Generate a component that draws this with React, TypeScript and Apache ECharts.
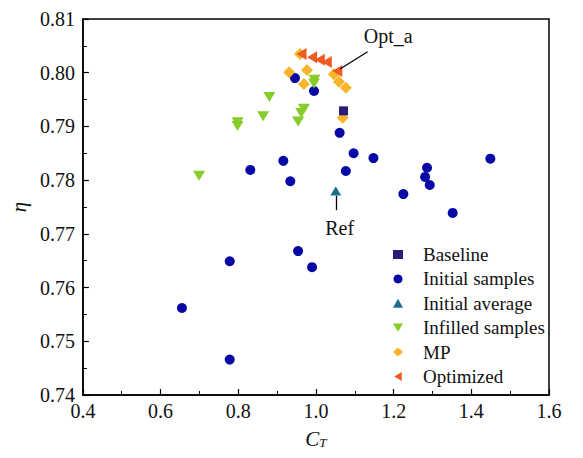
import React, { useEffect, useRef } from "react";
import * as echarts from "echarts";

// ---- data ----
const baselineCT = [1.071];
const baselineEta = [0.7929];

const initialCT = [0.655, 0.778, 0.778, 0.954, 0.990, 0.831, 0.916, 0.934, 1.061, 1.097, 1.077, 1.148, 1.286, 1.281, 1.293, 1.225, 1.352, 1.449, 0.946, 0.995];
const initialEta = [0.7562, 0.7649, 0.7466, 0.7668, 0.7638, 0.7819, 0.7836, 0.7798, 0.7888, 0.7850, 0.7817, 0.7841, 0.7823, 0.7806, 0.7791, 0.7774, 0.7739, 0.7840, 0.7990, 0.7966];

const averageCT = [1.051];
const averageEta = [0.7780];

const infilledCT = [0.699, 0.798, 0.798, 0.864, 0.880, 0.954, 0.962, 0.969, 0.995, 0.996];
const infilledEta = [0.7808, 0.7901, 0.7908, 0.7919, 0.7955, 0.7909, 0.7925, 0.7933, 0.7980, 0.7987];

const mpCT = [0.959, 0.931, 0.977, 0.969, 1.046, 1.059, 1.077, 1.069];
const mpEta = [0.8035, 0.8001, 0.8005, 0.7979, 0.7997, 0.7983, 0.7972, 0.7916];

const optCT = [0.963, 0.990, 1.010, 1.028, 1.055];
const optEta = [0.8035, 0.8029, 0.8024, 0.8020, 0.8003];

const seriesNames = ["Baseline", "Initial samples", "Initial average", "Infilled samples", "MP", "Optimized"];

const xTicks = { min: 0.4, max: 1.6, interval: 0.2 };
const yTicks = { min: 0.74, max: 0.81, interval: 0.01 };

// annotation anchors (data space)
const refArrow = [[1.051, 0.7744], [1.051, 0.7771]];
const refLabel = [1.061, 0.7711];
const optArrow = [[1.133, 0.8039], [1.062, 0.8007]];
const optLabel = [1.186, 0.8068];

const zip = (xs: number[], ys: number[]) => xs.map((x, i) => [x, ys[i]]);

const FONT = "Liberation Serif";

const DOWN_TRI = "path://M0,0L12,0L6,10Z";
const LEFT_TRI = "path://M0,6L10,0L10,12Z";

export default function App() {
  const ref = useRef<HTMLDivElement>(null);
  useEffect(() => {
    if (!ref.current) return;
    const chart = echarts.init(ref.current, null, { renderer: "svg" });
    const axisCommon = {
      splitLine: { show: false },
      axisLine: { lineStyle: { color: "#000", width: 1.5 } },
      axisTick: { inside: true, length: 6, lineStyle: { color: "#000", width: 1.2 } },
      minorTick: { show: true, splitNumber: 2, length: 4, lineStyle: { color: "#000", width: 1 } },
    };
    const legendIcons: Record<string, string> = {
      Baseline: "rect",
      "Initial samples": "circle",
      "Initial average": "triangle",
      "Infilled samples": DOWN_TRI,
      MP: "diamond",
      Optimized: LEFT_TRI,
    };
    chart.setOption({
      animation: false,
      backgroundColor: "#fff",
      textStyle: { fontFamily: FONT },
      grid: { left: 80, right: 34, top: 19, bottom: 63, show: true, borderColor: "#000", borderWidth: 1.5, backgroundColor: "transparent" },
      xAxis: {
        type: "value",
        ...xTicks,
        ...axisCommon,
        axisLabel: { fontFamily: FONT, fontSize: 20, color: "#111", margin: 6, formatter: (v: number) => v.toFixed(1) },
        name: "{i|C}{s|T}",
        nameLocation: "middle",
        nameGap: 33,
        nameTextStyle: {
          rich: {
            i: { fontFamily: FONT, fontStyle: "italic", fontSize: 21, color: "#111" },
            s: { fontFamily: FONT, fontStyle: "italic", fontSize: 13, color: "#111", verticalAlign: "bottom", padding: [8, 0, 0, 0] },
          },
        },
      },
      yAxis: {
        type: "value",
        ...yTicks,
        ...axisCommon,
        axisLabel: { fontFamily: FONT, fontSize: 20, color: "#111", margin: 8, formatter: (v: number) => v.toFixed(2) },
        name: "η",
        nameLocation: "middle",
        nameGap: 46,
        nameTextStyle: { fontFamily: FONT, fontStyle: "italic", fontSize: 21, color: "#111" },
      },
      legend: {
        data: seriesNames.map((n) => ({ name: n, icon: legendIcons[n] })),
        orient: "vertical",
        left: 388,
        top: 240,
        itemWidth: 10,
        itemHeight: 9,
        itemGap: 5.4,
        textStyle: { fontFamily: FONT, fontSize: 19, color: "#111", lineHeight: 17, padding: [0, 0, 0, 15] },
      },
      series: [
        {
          name: "Baseline", type: "scatter", symbol: "rect", symbolSize: 9,
          itemStyle: { color: "#2d1b7a", opacity: 1 }, data: zip(baselineCT, baselineEta), z: 3,
        },
        {
          name: "Initial samples", type: "scatter", symbol: "circle", symbolSize: 10,
          itemStyle: { color: "#0707a6", opacity: 1 }, data: zip(initialCT, initialEta), z: 2,
        },
        {
          name: "Initial average", type: "scatter", symbol: "triangle", symbolSize: [11, 9],
          itemStyle: { color: "#1d6e8c", opacity: 1 }, data: zip(averageCT, averageEta), z: 3,
        },
        {
          name: "Infilled samples", type: "scatter", symbol: DOWN_TRI, symbolSize: [12, 10],
          itemStyle: { color: "#86cc2a", opacity: 1 }, data: zip(infilledCT, infilledEta), z: 3,
        },
        {
          name: "MP", type: "scatter", symbol: "diamond", symbolSize: 12,
          itemStyle: { color: "#f8b42a", opacity: 1 }, data: zip(mpCT, mpEta), z: 2,
        },
        {
          name: "Optimized", type: "scatter", symbol: LEFT_TRI, symbolSize: [10, 12],
          itemStyle: { color: "#f15a22", opacity: 1 }, data: zip(optCT, optEta), z: 4,
        },
        {
          name: "annotations", type: "scatter", data: [], silent: true,
          markLine: {
            silent: true,
            symbol: ["none", "arrow"],
            symbolSize: [0, 9],
            label: { show: false },
            lineStyle: { color: "#000", width: 1.3, type: "solid" },
            data: [
              [{ coord: refArrow[0] }, { coord: refArrow[1] }],
              [{ coord: optArrow[0] }, { coord: optArrow[1] }],
            ],
          },
          markPoint: {
            symbol: "circle",
            symbolSize: 0,
            label: { show: true, position: "inside", fontFamily: FONT, fontSize: 20, color: "#111" },
            data: [
              { coord: refLabel, value: "Ref", label: { formatter: "Ref" } },
              { coord: optLabel, value: "Opt_a", label: { formatter: "Opt_a" } },
            ],
          },
        },
      ],
    });
    return () => chart.dispose();
  }, []);
  return <div ref={ref} style={{ position: "fixed", left: 0, top: 0, width: 583, height: 458 }} />;
}
